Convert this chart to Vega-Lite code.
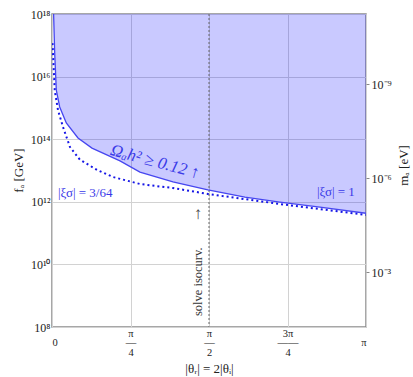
{
  "$schema": "https://vega.github.io/schema/vega-lite/v6.json",
  "autosize": {"type": "none"},
  "padding": {"left": 52, "top": 14, "right": 47, "bottom": 50},
  "width": 314,
  "height": 313,
  "background": "white",
  "config": {
    "font": "Liberation Serif",
    "view": {"stroke": "#8a8a8a", "strokeWidth": 1.5},
    "axis": {"labelFont": "Liberation Serif", "titleFont": "Liberation Serif", "titleFontWeight": "normal", "labelColor": "#222", "titleColor": "#222"}
  },
  "data": {
    "values": [
      {"s": "solid", "theta": 0, "f": 2.0e18},
      {"s": "solid", "theta": 0.016, "f": 1.0e18},
      {"s": "solid", "theta": 0.027, "f": 5.6e16},
      {"s": "solid", "theta": 0.043, "f": 3.7e15},
      {"s": "solid", "theta": 0.077, "f": 1.07e15},
      {"s": "solid", "theta": 0.143, "f": 3.3e14},
      {"s": "solid", "theta": 0.26, "f": 1.1e14},
      {"s": "solid", "theta": 0.40, "f": 5.2e13},
      {"s": "solid", "theta": 0.68, "f": 2.04e13},
      {"s": "solid", "theta": 0.88, "f": 8.9e12},
      {"s": "solid", "theta": 1.21, "f": 4.3e12},
      {"s": "solid", "theta": 1.56, "f": 2.4e12},
      {"s": "solid", "theta": 1.93, "f": 1.41e12},
      {"s": "solid", "theta": 2.28, "f": 9.8e11},
      {"s": "solid", "theta": 2.68, "f": 6.8e11},
      {"s": "solid", "theta": 3.141592653589793, "f": 4.3e11},
      {"s": "dotted", "theta": 0.005, "f": 1.17e17},
      {"s": "dotted", "theta": 0.027, "f": 3.7e15},
      {"s": "dotted", "theta": 0.06, "f": 8.5e14},
      {"s": "dotted", "theta": 0.11, "f": 2.45e14},
      {"s": "dotted", "theta": 0.18, "f": 5.6e13},
      {"s": "dotted", "theta": 0.28, "f": 2.2e13},
      {"s": "dotted", "theta": 0.45, "f": 1.05e13},
      {"s": "dotted", "theta": 0.61, "f": 6.2e12},
      {"s": "dotted", "theta": 0.88, "f": 3.7e12},
      {"s": "dotted", "theta": 1.21, "f": 2.75e12},
      {"s": "dotted", "theta": 1.56, "f": 1.78e12},
      {"s": "dotted", "theta": 2.28, "f": 8.5e11},
      {"s": "dotted", "theta": 3.141592653589793, "f": 3.8e11}
    ]
  },
  "layer": [
    {
      "layer": [
        {
          "transform": [{"filter": "datum.s == 'solid'"}],
          "mark": {"type": "area", "color": "#0000ff", "opacity": 0.21, "clip": true},
          "encoding": {
            "x": {"field": "theta", "type": "quantitative",
              "scale": {"domain": [0, 3.141592653589793], "nice": false, "zero": false},
              "axis": {
                "values": [0, 0.7853981633974483, 1.5707963267948966, 2.356194490192345, 3.141592653589793],
                "labelExpr": "[['','0',''], ['π','—','4'], ['π','—','2'], ['3π','——','4'], ['','π','']][round(datum.value*4/PI)]",
                "labelOverlap": false,
                "labelFontSize": 10.5,
                "labelLineHeight": 9.5,
                "labelBaseline": "top",
                "labelPadding": 1,
                "ticks": false,
                "domain": false,
                "grid": true,
                "gridColor": "#d2d2d2",
                "gridWidth": 1,
                "title": "|θᵣ| = 2|θᵢ|",
                "titleFontSize": 13,
                "titleY": 41,
                "titleBaseline": "middle"
              }
            },
            "y": {"field": "f", "type": "quantitative",
              "scale": {"type": "log", "domain": [1e8, 1e18], "nice": false},
              "axis": {
                "values": [1e8, 1e10, 1e12, 1e14, 1e16, 1e18],
                "labelExpr": "['10⁸','10¹⁰','10¹²','10¹⁴','10¹⁶','10¹⁸'][round((log(datum.value)/LN10-8)/2)]",
                "labelFontSize": 12,
                "labelPadding": 2,
                "ticks": false,
                "domain": false,
                "grid": true,
                "gridColor": "#d2d2d2",
                "gridWidth": 1,
                "title": "fₐ [GeV]",
                "titleFontSize": 13,
                "titleX": -34,
                "titleY": 156,
                "titleBaseline": "middle",
                "titleAlign": "center"
              }
            },
            "y2": {"datum": 1e18}
          }
        },
        {
          "data": {"values": [{}]},
          "mark": {"type": "rule", "color": "#666", "strokeWidth": 1, "strokeDash": [2, 2]},
          "encoding": {"x": {"datum": 1.5707963267948966, "type": "quantitative"}}
        },
        {
          "transform": [{"filter": "datum.s == 'solid'"}],
          "mark": {"type": "line", "color": "#4646f0", "strokeWidth": 1.3, "clip": true},
          "encoding": {
            "x": {"field": "theta", "type": "quantitative"},
            "y": {"field": "f", "type": "quantitative"}
          }
        },
        {
          "transform": [{"filter": "datum.s == 'dotted'"}],
          "mark": {"type": "line", "color": "#1515e6", "strokeWidth": 2, "strokeDash": [2, 3], "clip": true},
          "encoding": {
            "x": {"field": "theta", "type": "quantitative"},
            "y": {"field": "f", "type": "quantitative"}
          }
        },
        {
          "data": {"values": [{}]},
          "mark": {"type": "text", "text": "Ωₐh² ≥ 0.12 ↑", "color": "#3a3ae8", "fontSize": 17, "fontStyle": "italic", "angle": 15, "align": "center", "baseline": "middle"},
          "encoding": {"x": {"datum": 1.03, "type": "quantitative"}, "y": {"datum": 1.9e13, "type": "quantitative"}}
        },
        {
          "data": {"values": [{}]},
          "mark": {"type": "text", "text": "|ξσ| = 3/64", "color": "#3a3ae8", "fontSize": 13, "align": "left", "baseline": "middle"},
          "encoding": {"x": {"datum": 0.06, "type": "quantitative"}, "y": {"datum": 1.9e12, "type": "quantitative"}}
        },
        {
          "data": {"values": [{}]},
          "mark": {"type": "text", "text": "|ξσ| = 1", "color": "#3a3ae8", "fontSize": 13, "align": "right", "baseline": "middle"},
          "encoding": {"x": {"datum": 3.03, "type": "quantitative"}, "y": {"datum": 2.0e12, "type": "quantitative"}}
        },
        {
          "data": {"values": [{}]},
          "mark": {"type": "text", "text": "solve isocurv.", "color": "#333", "fontSize": 12.5, "angle": 270, "align": "left", "baseline": "middle"},
          "encoding": {"x": {"datum": 1.461, "type": "quantitative"}, "y": {"datum": 2.24e8, "type": "quantitative"}}
        },
        {
          "data": {"values": [{}]},
          "mark": {"type": "text", "text": "↑", "color": "#444", "fontSize": 17, "align": "center", "baseline": "middle"},
          "encoding": {"x": {"datum": 1.461, "type": "quantitative"}, "y": {"datum": 4.1e11, "type": "quantitative"}}
        }
      ]
    },
    {
      "data": {"values": [{"m": 1e-9}, {"m": 1e-6}, {"m": 1e-3}]},
      "mark": {"type": "point", "opacity": 0},
      "encoding": {
        "y": {"field": "m", "type": "quantitative",
          "scale": {"type": "log", "domain": [0.057, 5.7e-12], "nice": false},
          "axis": {
            "orient": "right",
            "values": [1e-9, 1e-6, 1e-3],
            "labelExpr": "['10⁻³','10⁻⁶','10⁻⁹'][round(-log(datum.value)/LN10/3)-1]",
            "labelFontSize": 12,
            "labelPadding": 2,
            "ticks": true,
            "tickSize": 3,
            "tickColor": "#888",
            "domain": false,
            "grid": false,
            "title": "mₐ [eV]",
            "titleFontSize": 13,
            "titleAngle": -90,
            "titleX": 37,
            "titleY": 151,
            "titleBaseline": "middle",
            "titleAlign": "center"
          }
        }
      }
    }
  ],
  "resolve": {"scale": {"y": "independent"}, "axis": {"y": "independent"}}
}
